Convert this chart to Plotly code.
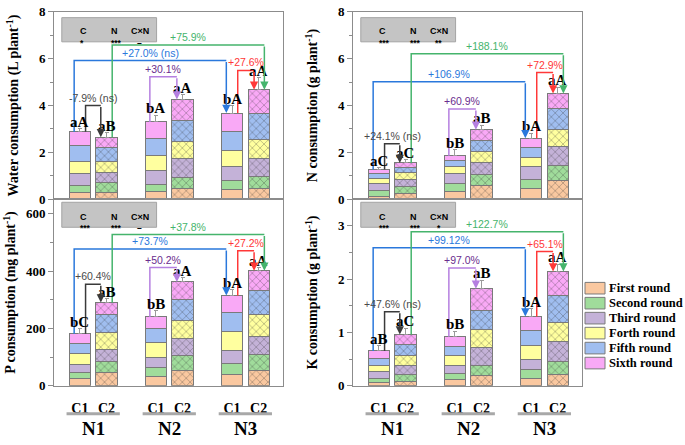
import plotly.graph_objects as go

# ---------------- data ----------------
rounds = ["First round", "Second round", "Third round", "Forth round", "Fifth round", "Sixth round"]
round_colors = ["#FAC8A0", "#A0DC9B", "#C4B2D8", "#FFFF9F", "#A0BEF0", "#F9A9F6"]
groups = ["N1", "N2", "N3"]
treatments = ["C1", "C2"]
bar_labels = ["C1", "C2", "C1", "C2", "C1", "C2"]   # bars: N1C1, N1C2, N2C1, N2C2, N3C1, N3C2

# Water consumption (L plant-1), one list per round over the six bars
water_r1 = [0.30, 0.30, 0.33, 0.44, 0.40, 0.47]
water_r2 = [0.31, 0.42, 0.32, 0.48, 0.41, 0.50]
water_r3 = [0.48, 0.41, 0.58, 0.83, 0.60, 0.75]
water_r4 = [0.52, 0.48, 0.62, 0.72, 0.66, 0.82]
water_r5 = [0.69, 0.60, 0.76, 0.91, 0.81, 1.12]
water_r6 = [0.58, 0.44, 0.69, 0.88, 0.80, 1.02]
water_err = [0.14, 0.20, 0.29, 0.21, 0.32, 0.50]
water_letters = ["aA", "aB", "bA", "aA", "bA", "aA"]
water_levels = [4.00, 5.92, 6.58, 5.23, 5.50]
water_labels = ["-7.9% (ns)", "+27.0% (ns)", "+75.9%", "+30.1%", "+27.6%"]
water_stats = ["*", "***", "–"]

# N consumption (g plant-1)
n_r1 = [0.14, 0.23, 0.33, 0.58, 0.48, 0.79]
n_r2 = [0.23, 0.32, 0.36, 0.48, 0.38, 0.64]
n_r3 = [0.32, 0.31, 0.41, 0.49, 0.55, 0.83]
n_r4 = [0.19, 0.27, 0.28, 0.51, 0.37, 0.73]
n_r5 = [0.22, 0.21, 0.28, 0.45, 0.43, 0.87]
n_r6 = [0.17, 0.21, 0.20, 0.46, 0.40, 0.65]
n_err = [0.07, 0.13, 0.26, 0.19, 0.20, 0.28]
n_letters = ["aC", "aC", "bB", "aB", "bA", "aA"]
n_levels = [2.37, 5.02, 6.21, 3.85, 5.41]
n_labels = ["+24.1% (ns)", "+106.9%", "+188.1%", "+60.9%", "+72.9%"]
n_stats = ["***", "***", "**"]

# P consumption (mg plant-1)
p_r1 = [25, 47, 34, 52, 39, 52]
p_r2 = [20, 39, 30, 54, 38, 56]
p_r3 = [28, 41, 33, 58, 45, 65]
p_r4 = [38, 60, 54, 65, 68, 77]
p_r5 = [37, 61, 49, 72, 67, 82]
p_r6 = [33, 42, 40, 61, 58, 69]
p_err = [17, 14, 21, 14, 19, 11]
p_letters = ["bC", "aB", "bB", "aA", "bA", "aA"]
p_levels = [354, 477, 527, 412, 471]
p_labels = ["+60.4%", "+73.7%", "+37.8%", "+50.2%", "+27.2%"]
p_stats = ["***", "***", "–"]

# K consumption (g plant-1)
k_r1 = [0.055, 0.073, 0.110, 0.194, 0.145, 0.212]
k_r2 = [0.090, 0.133, 0.120, 0.182, 0.155, 0.238]
k_r3 = [0.125, 0.170, 0.146, 0.344, 0.200, 0.380]
k_r4 = [0.120, 0.194, 0.184, 0.340, 0.250, 0.360]
k_r5 = [0.120, 0.200, 0.180, 0.350, 0.280, 0.500]
k_r6 = [0.145, 0.194, 0.180, 0.410, 0.270, 0.455]
k_err = [0.095, 0.12, 0.10, 0.16, 0.15, 0.135]
k_letters = ["aB", "aC", "bB", "aB", "bA", "aA"]
k_levels = [1.39, 2.59, 2.89, 2.21, 2.52]
k_labels = ["+47.6% (ns)", "+99.12%", "+122.7%", "+97.0%", "+65.1%"]
k_stats = ["***", "***", "*"]

stat_heads = ["C", "N", "C×N"]

# ---------------- styling / layout constants ----------------
SERIF = "Liberation Serif"
SANS = "Liberation Sans"
AXC = "#8c8c8c"
W, H = 685, 445
OFF = 0.175          # C1/C2 offset inside a group
BW = 0.28            # bar width
pos = [g + 1 + o for g in range(len(groups)) for o in (-OFF, OFF)]

# bracket definitions: (from bar, x-offset, to bar, x-offset, line colour, text colour)
brackets = [
    (0, 0.075, 1, -0.075, "#3a3a3a", "#4a4a4a"),
    (0, -0.075, 4, -0.075, "#2a78dc", "#2a78dc"),
    (1, 0.075, 5, 0.075, "#45b46c", "#45b46c"),
    (2, -0.08, 3, -0.075, "#b57fe0", "#6a2d8e"),
    (4, 0.075, 5, -0.06, "#ff3838", "#ff3838"),
]

left_dom = [54 / W, 283 / W]
right_dom = [353 / W, 582 / W]
top_dom = [(H - 199) / H, (H - 5) / H]
bot_dom = [(H - 392) / H, (H - 199) / H]

panels = [
    dict(n="", xd=left_dom, yd=top_dom, rng=[0, 8], dt=2, mdt=1,
         data=[water_r1, water_r2, water_r3, water_r4, water_r5, water_r6], err=water_err,
         letters=water_letters, levels=water_levels, labels=water_labels, stats=water_stats,
         title="Water consumption (L plant<sup>-1</sup>)", standoff=16, bottom=False),
    dict(n="2", xd=right_dom, yd=top_dom, rng=[0, 8], dt=2, mdt=1,
         data=[n_r1, n_r2, n_r3, n_r4, n_r5, n_r6], err=n_err,
         letters=n_letters, levels=n_levels, labels=n_labels, stats=n_stats,
         title="N consumption (g plant<sup>-1</sup>)", standoff=16, bottom=False),
    dict(n="3", xd=left_dom, yd=bot_dom, rng=[0, 650], dt=200, mdt=100,
         data=[p_r1, p_r2, p_r3, p_r4, p_r5, p_r6], err=p_err,
         letters=p_letters, levels=p_levels, labels=p_labels, stats=p_stats,
         title="P consumption (mg plant<sup>-1</sup>)", standoff=6, bottom=True),
    dict(n="4", xd=right_dom, yd=bot_dom, rng=[0, 3.5], dt=1, mdt=0.5,
         data=[k_r1, k_r2, k_r3, k_r4, k_r5, k_r6], err=k_err,
         letters=k_letters, levels=k_levels, labels=k_labels, stats=k_stats,
         title="K consumption (g plant<sup>-1</sup>)", standoff=16, bottom=True),
]

fig = go.Figure()
shapes = []
annotations = []
layout_axes = {}

for pi, p in enumerate(panels):
    xa, ya = "x" + p["n"], "y" + p["n"]
    totals = [sum(p["data"][r][i] for r in range(len(rounds))) for i in range(len(pos))]

    for ri, rname in enumerate(rounds):
        kw = {}
        if ri == len(rounds) - 1:
            kw["error_y"] = dict(type="data", array=p["err"], arrayminus=[0] * len(pos),
                                 symmetric=False, color="#9a9a9a", thickness=1, width=2)
        fig.add_trace(go.Bar(
            x=pos, y=p["data"][ri], width=BW, name=rname, legendgroup=rname,
            showlegend=False, xaxis=xa, yaxis=ya,
            marker=dict(color=round_colors[ri], line=dict(color="#7a7a7a", width=1),
                        pattern=dict(shape=["", "x"] * 3, fgcolor="#2e2e2e", size=5.5,
                                     solidity=0.2, fillmode="overlay")),
            hoverinfo="skip", **kw))

    # significance letters
    for i in range(len(pos)):
        annotations.append(dict(x=pos[i], y=totals[i] + p["err"][i], xref=xa, yref=ya,
                                text="<b>" + p["letters"][i] + "</b>", showarrow=False,
                                yanchor="bottom",
                                font=dict(family=SERIF, size=15, color="black"),
                                yshift=-3))

    # brackets with arrows
    for bi, (fb, fo, tb, to, lc, tc) in enumerate(brackets):
        x0 = pos[fb] + fo
        x1 = pos[tb] + to
        yh = p["levels"][bi]
        shapes.append(dict(type="path", xref=xa, yref=ya,
                           path=f"M{x0},{totals[fb]} L{x0},{yh} L{x1},{yh}",
                           line=dict(color=lc, width=1.5)))
        annotations.append(dict(x=x1, y=totals[tb], ax=x1, ay=yh, xref=xa, yref=ya,
                                axref=xa, ayref=ya, text="", showarrow=True, arrowhead=2,
                                arrowsize=1.1, arrowwidth=1.5, arrowcolor=lc, standoff=0))
        annotations.append(dict(x=(x0 + x1) / 2, y=yh, xref=xa, yref=ya, text=p["labels"][bi],
                                showarrow=False, yanchor="bottom", yshift=0,
                                font=dict(family=SANS, size=10.5, color=tc)))

    # statistics box
    top = p["yd"] == top_dom
    by0, by1 = (0.840, 0.969) if top else (0.850, 0.984)
    hy, sy = (0.935, 0.872) if top else (0.945, 0.885)
    shapes.append(dict(type="rect", xref=xa + " domain", yref=ya + " domain",
                       x0=0.034, x1=0.448, y0=by0, y1=by1,
                       fillcolor="#c4c4c4", line=dict(color="#a3a3a3", width=1)))
    for ci, cx in enumerate([0.105, 0.238, 0.375]):
        annotations.append(dict(x=cx, y=hy, xref=xa + " domain", yref=ya + " domain",
                                text="<b>" + stat_heads[ci] + "</b>", showarrow=False,
                                font=dict(family=SANS, size=9, color="black")))
        annotations.append(dict(x=cx, y=sy, xref=xa + " domain", yref=ya + " domain",
                                text="<b>" + p["stats"][ci] + "</b>", showarrow=False,
                                font=dict(family=SANS, size=8.5, color="black")))

    # group lines and labels under bottom panels
    if p["bottom"]:
        for gi, g in enumerate(groups):
            shapes.append(dict(type="line", xref=xa, yref="paper",
                               x0=gi + 1 - 0.35, x1=gi + 1 + 0.35,
                               y0=(H - 421) / H, y1=(H - 421) / H,
                               line=dict(color="#a8a8a8", width=3)))
            annotations.append(dict(x=gi + 1, y=(H - 436) / H, xref=xa, yref="paper",
                                    text="<b>" + g + "</b>", showarrow=False, yanchor="middle",
                                    font=dict(family=SERIF, size=19, color="black")))

    layout_axes["xaxis" + p["n"]] = dict(
        domain=p["xd"], range=[0.485, 3.495], anchor=ya, showline=True, mirror=True,
        linecolor=AXC, linewidth=1, showgrid=False, zeroline=False, ticks="",
        tickvals=pos, ticktext=["<b>" + t + "</b>" for t in bar_labels],
        showticklabels=p["bottom"],
        tickfont=dict(family=SERIF, size=14, color="black"),
        ticklabelstandoff=9)
    layout_axes["yaxis" + p["n"]] = dict(
        domain=p["yd"], range=p["rng"], anchor=xa, dtick=p["dt"], tick0=0,
        showline=True, mirror=True, linecolor=AXC, linewidth=1, showgrid=False,
        zeroline=False, ticks="outside", ticklen=5, tickcolor=AXC,
        ticklabeloverflow="allow",
        minor=dict(dtick=p["mdt"], ticks="outside", ticklen=3, tickcolor=AXC, showgrid=False),
        tickfont=dict(family=SERIF, size=13, color="black", weight="bold"),
        title=dict(text="<b>" + p["title"] + "</b>", standoff=p["standoff"],
                   font=dict(family=SERIF, size=14, color="black")))

# legend (drawn as boxes + labels to match the reference's compact spacing)
leg_rows = [291, 306.5, 322, 337.5, 353, 368.5]
for ri, rname in enumerate(rounds):
    yc = (H - leg_rows[ri]) / H
    shapes.append(dict(type="rect", xref="paper", yref="paper",
                       x0=585 / W, x1=605 / W, y0=yc - 6 / H, y1=yc + 6 / H,
                       fillcolor=round_colors[ri], line=dict(color="#7a7a7a", width=1)))
    annotations.append(dict(x=607 / W, y=yc, xref="paper", yref="paper", xanchor="left",
                            yanchor="middle", text="<b>" + rname + "</b>", showarrow=False,
                            font=dict(family=SERIF, size=12.5, color="black")))

fig.update_layout(
    width=W, height=H, margin=dict(l=0, r=0, t=0, b=0),
    paper_bgcolor="white", plot_bgcolor="white", barmode="stack", showlegend=False,
    hovermode=False, shapes=shapes, annotations=annotations,
    **layout_axes,
)

fig.write_html("out.html", config={"displayModeBar": False, "staticPlot": True},
               post_script="document.body.style.margin='0px';")
